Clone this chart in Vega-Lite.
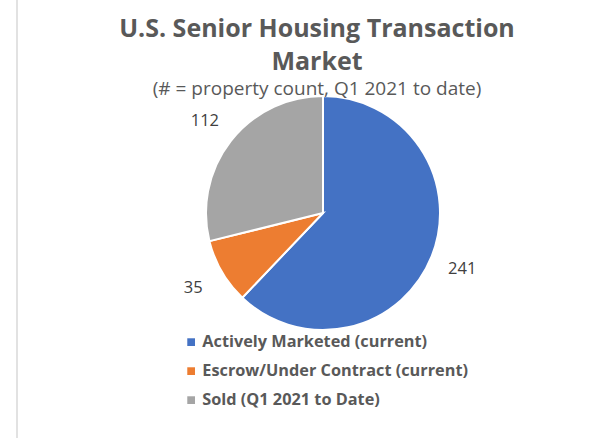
{
  "$schema": "https://vega.github.io/schema/vega-lite/v6.json",
  "autosize": {"type": "none"},
  "width": 612,
  "height": 456,
  "padding": {"left": 17, "top": -15, "right": 0, "bottom": 0},
  "background": "white",
  "view": {"stroke": "#d9d9d9", "strokeWidth": 1.5},
  "config": {
    "view": {"stroke": "#d9d9d9", "strokeWidth": 1.5},
    "font": "Open Sans"
  },
  "title": {
    "text": ["U.S. Senior Housing Transaction", "Market"],
    "subtitle": "(# = property count, Q1 2021 to date)",
    "anchor": "middle",
    "offset": -114,
    "dx": -6,
    "font": "Open Sans",
    "fontSize": 25,
    "fontWeight": "bold",
    "color": "#595959",
    "lineHeight": 33,
    "subtitleFont": "Open Sans",
    "subtitleFontSize": 19,
    "subtitleColor": "#595959",
    "subtitlePadding": 5
  },
  "data": {
    "values": [
      {"status": "Actively Marketed (current)", "count": 241, "ord": 1},
      {"status": "Escrow/Under Contract (current)", "count": 35, "ord": 2},
      {"status": "Sold (Q1 2021 to Date)", "count": 112, "ord": 3}
    ]
  },
  "encoding": {
    "theta": {"field": "count", "type": "quantitative", "stack": true},
    "order": {"field": "ord", "type": "ordinal"},
    "color": {
      "field": "status",
      "type": "nominal",
      "scale": {
        "domain": ["Actively Marketed (current)", "Escrow/Under Contract (current)", "Sold (Q1 2021 to Date)"],
        "range": ["#4472C4", "#ED7D31", "#A5A5A5"]
      },
      "legend": {
        "title": null,
        "orient": "none",
        "legendX": 166,
        "legendY": 349,
        "direction": "vertical",
        "symbolType": "square",
        "symbolSize": 60,
        "symbolStrokeWidth": 0,
        "labelFont": "Open Sans",
        "labelFontSize": 16.3,
        "labelFontWeight": "bold",
        "labelColor": "#595959",
        "labelOffset": 3,
        "rowPadding": 12,
        "labelLimit": 400
      }
    }
  },
  "layer": [
    {
      "mark": {"type": "arc", "outerRadius": 117, "stroke": "white", "strokeWidth": 2}
    },
    {
      "mark": {"type": "text", "radius": 150, "fontSize": 16.5, "font": "Open Sans"},
      "encoding": {
        "text": {"field": "count", "type": "quantitative"},
        "color": {"value": "#404040"}
      }
    }
  ]
}
